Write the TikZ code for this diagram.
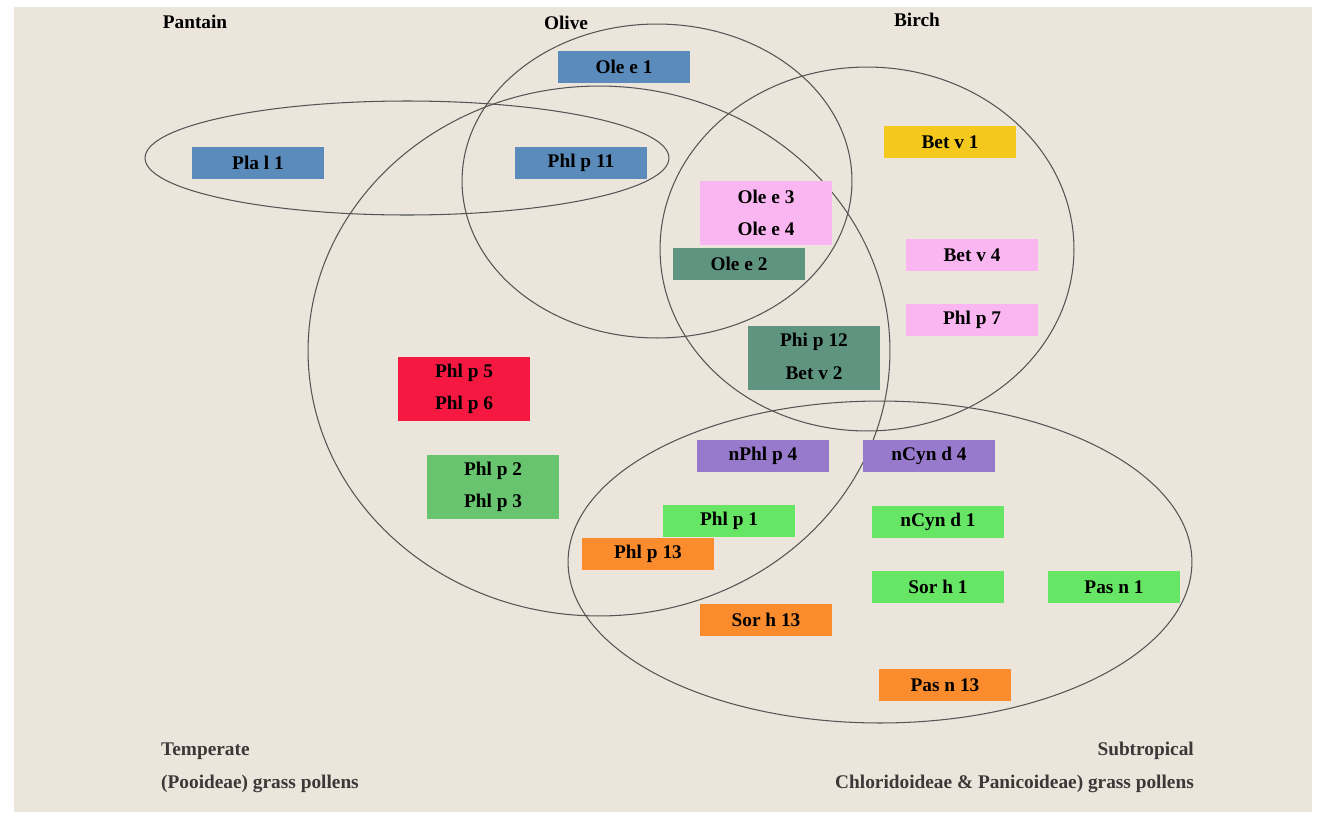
\documentclass[tikz,border=0pt]{standalone}
\usepackage{fontspec}
\setmainfont{Liberation Serif}
\usetikzlibrary{positioning}

\definecolor{paper}{RGB}{235,229,219}
\definecolor{olivblue}{RGB}{90,139,186}
\definecolor{birchyellow}{RGB}{245,200,30}
\definecolor{pollpink}{RGB}{250,182,240}
\definecolor{panteal}{RGB}{95,148,128}
\definecolor{profred}{RGB}{245,25,65}
\definecolor{grassgreen}{RGB}{104,196,110}
\definecolor{limegreen}{RGB}{102,230,100}
\definecolor{lavender}{RGB}{152,122,205}
\definecolor{ccdorange}{RGB}{250,140,45}
\definecolor{rimgray}{RGB}{85,85,85}
\definecolor{notegray}{RGB}{60,56,56}

\tikzset{
  allergen/.style={minimum width=2.64cm, minimum height=0.65cm, inner sep=0pt,
    font=\fontsize{11}{13}\selectfont\bfseries},
  venn/.style={rimgray, line width=0.6pt},
  header/.style={font=\fontsize{11}{13}\selectfont\bfseries},
  footnote/.style={notegray, font=\fontsize{11}{13}\selectfont\bfseries}
}

\newcommand{\drawAllergen}[4]{\node[allergen, fill=#2] (#1) at (#3) {#4};}

\begin{document}
\begin{tikzpicture}[x=0.02cm, y=-0.02cm]
        \useasboundingbox (0,0) rectangle (1324,825);
        \fill[paper] (14,7) rectangle (1312,812);

        % Draw the pollen groups
        \draw[venn] (407,158) ellipse [x radius=5.24cm, y radius=1.14cm];
        \draw[venn] (657,181) ellipse [x radius=3.9cm, y radius=3.14cm];
        \draw[venn] (599,351) ellipse [x radius=5.82cm, y radius=5.3cm];
        \draw[venn] (867,249) ellipse [x radius=4.14cm, y radius=3.64cm];
        \draw[venn] (880,562) ellipse [x radius=6.24cm, y radius=3.22cm];

        \node[header] (pantain) at (195,22) {Pantain};
        \node[header] (olive) at (566,23) {Olive};
        \node[header] (birch) at (917,20) {Birch};

        \drawAllergen{plal1}{olivblue}{258,163}{Pla l 1}
        \drawAllergen{olee1}{olivblue}{624,67}{Ole e 1}
        \drawAllergen{phlp11}{olivblue}{581,163}{Phl p 11}
        \drawAllergen{betv1}{birchyellow}{950,142}{Bet v 1}

        \drawAllergen{olee3}{pollpink}{766,197}{Ole e 3}
        \node[allergen, fill=pollpink, below=-1pt of olee3] (olee4) {Ole e 4};
        \drawAllergen{olee2}{panteal}{739,264}{Ole e 2}
        \drawAllergen{betv4}{pollpink}{972,255}{Bet v 4}
        \drawAllergen{phlp7}{pollpink}{972,320}{Phl p 7}

        \drawAllergen{phip12}{panteal}{814,342}{Phi p 12}
        \node[allergen, fill=panteal, below=-1pt of phip12] (betv2) {Bet v 2};

        \drawAllergen{phlp5}{profred}{464,373}{Phl p 5}
        \node[allergen, fill=profred, below=-1pt of phlp5] (phlp6) {Phl p 6};
        \drawAllergen{phlp2}{grassgreen}{493,471}{Phl p 2}
        \node[allergen, fill=grassgreen, below=-1pt of phlp2] (phlp3) {Phl p 3};

        \drawAllergen{nphlp4}{lavender}{763,456}{nPhl p 4}
        \drawAllergen{ncynd4}{lavender}{929,456}{nCyn d 4}
        \drawAllergen{phlp1}{limegreen}{729,521}{Phl p 1}
        \drawAllergen{ncynd1}{limegreen}{938,522}{nCyn d 1}
        \drawAllergen{phlp13}{ccdorange}{648,554}{Phl p 13}
        \drawAllergen{sorh1}{limegreen}{938,587}{Sor h 1}
        \drawAllergen{pasn1}{limegreen}{1114,587}{Pas n 1}
        \drawAllergen{sorh13}{ccdorange}{766,620}{Sor h 13}
        \drawAllergen{pasn13}{ccdorange}{945,685}{Pas n 13}

        % Draw the footnotes
        \node[footnote, anchor=west] (temperate) at (155,751) {Temperate};
        \node[footnote, anchor=west] (pooideae) at (155,784) {(Pooideae) grass pollens};
        \node[footnote, anchor=east] (subtropical) at (1200,751) {Subtropical};
        \node[footnote, anchor=east] (panicoideae) at (1200,784) {Chloridoideae \& Panicoideae) grass pollens};

    \end{tikzpicture}
\end{document}
